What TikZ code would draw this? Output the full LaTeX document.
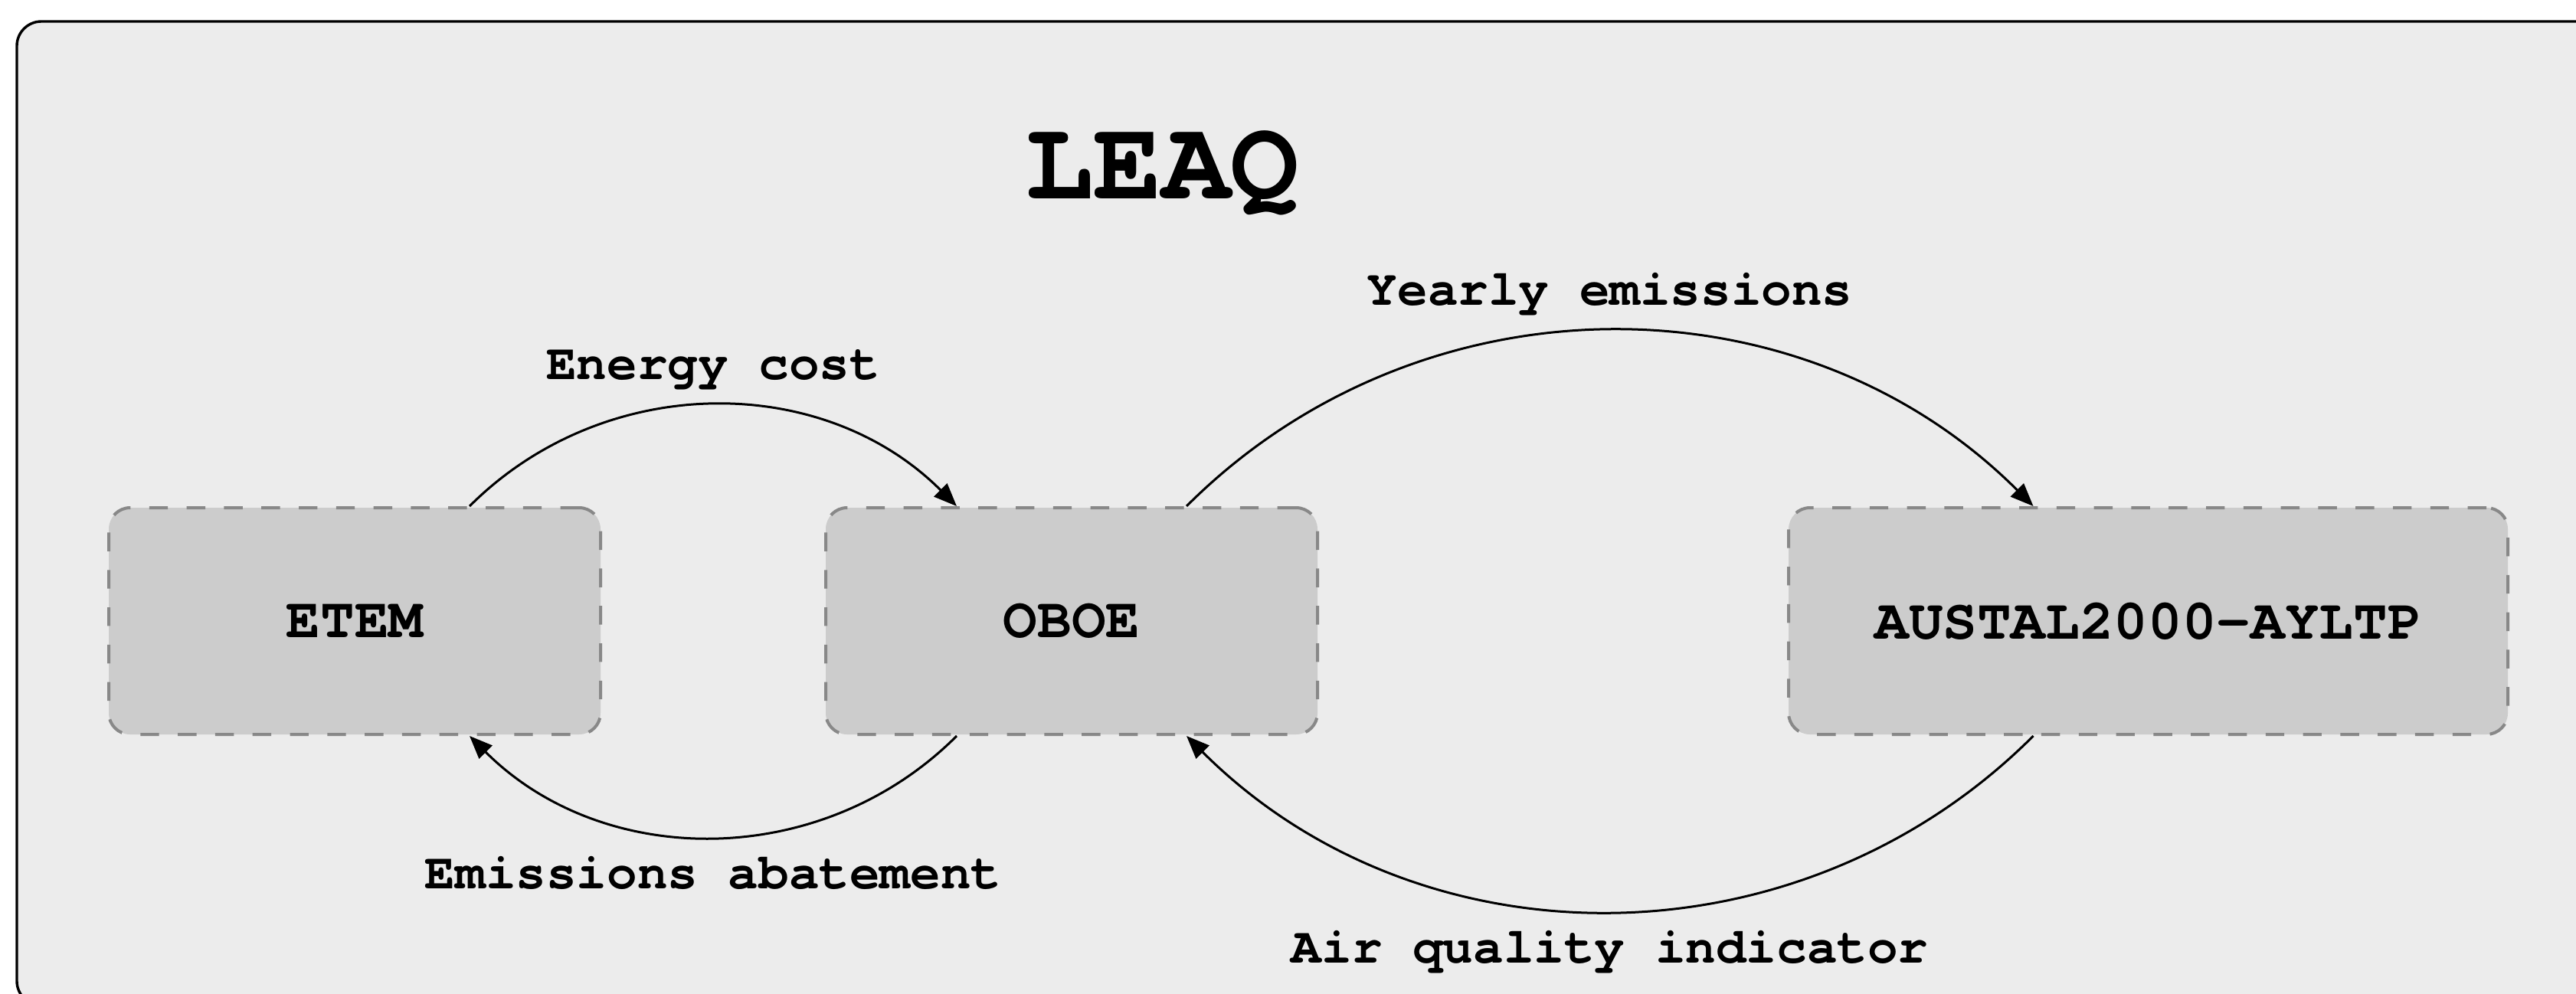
\documentclass[tikz,border=0pt]{standalone}
\usepackage{fontspec}
\setmonofont{TeX Gyre Cursor}
\usetikzlibrary{arrows.meta,calc}
\definecolor{bgc}{HTML}{ECECEC}
\definecolor{boxc}{HTML}{CCCCCC}
\definecolor{dashc}{HTML}{888888}
\begin{document}
\begin{tikzpicture}[x=0.25pt,y=0.25pt,
  module/.style={draw=dashc, fill=boxc, line width=1pt, dash pattern=on 6.1pt off 6.1pt,
    rounded corners=7pt, inner sep=0pt, minimum height=74pt,
    font=\fontsize{18.6}{20}\selectfont\ttfamily\bfseries},
  flow/.style={draw=black, line width=0.75pt, -{Triangle[length=7.5pt,width=6pt]}, bend left=45},
  lbl/.style={font=\fontsize{16.5}{18}\selectfont\ttfamily\bfseries, inner sep=0pt, anchor=base},
]
\clip (0,0) rectangle (3363,-1297);
\fill[white] (0,0) rectangle (3363,-1297);
\draw[fill=bgc, line width=0.85pt, rounded corners=8pt] (22,-28) rectangle (3440,-1313);

\node[font=\fontsize{37.2}{40}\selectfont\ttfamily\bfseries, anchor=base, inner sep=0pt] (title) at (1517,-259) {LEAQ};

\node[module, minimum width=160.5pt] (etem) at (463,-811) {ETEM};
\node[module, minimum width=160.5pt] (oboe) at (1399,-811) {OBOE};
\node[module, minimum width=234.75pt] (austal) at (2804.5,-811) {AUSTAL2000-AYLTP};

\draw[flow] ($(etem.north)+(150,0)$) to node[lbl, midway, yshift=8.5pt] (l1) {Energy cost} ($(oboe.north)+(-150,0)$);
\draw[flow] ($(oboe.north)+(150,0)$) to node[lbl, midway, yshift=8.5pt] (l2) {Yearly emissions} ($(austal.north)+(-150,0)$);
\draw[flow] ($(austal.south)+(-150,0)$) to node[lbl, midway, yshift=-17pt] (l3) {Air quality indicator} ($(oboe.south)+(150,0)$);
\draw[flow] ($(oboe.south)+(-150,0)$) to node[lbl, midway, yshift=-17pt] (l4) {Emissions abatement} ($(etem.south)+(150,0)$);
\end{tikzpicture}
\end{document}
